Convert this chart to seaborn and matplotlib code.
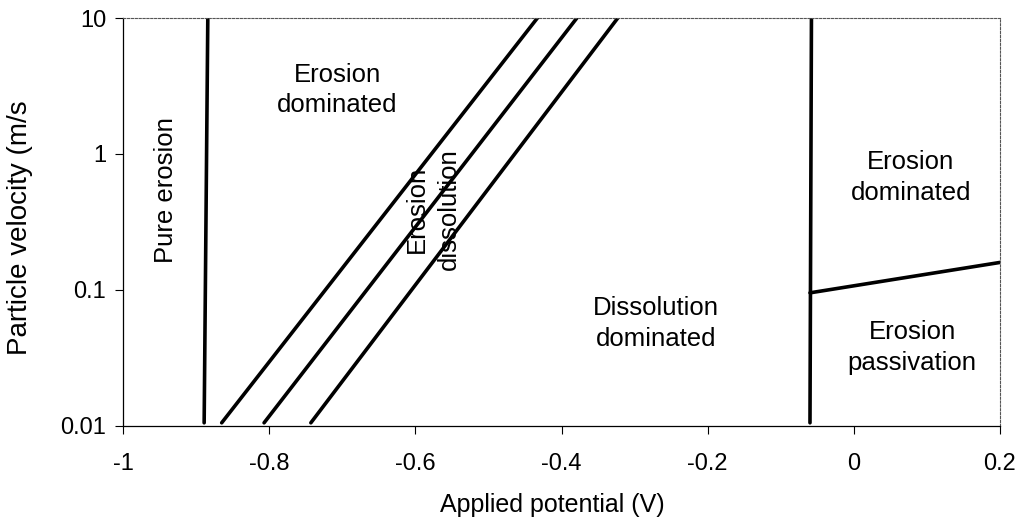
import matplotlib
matplotlib.use("Agg")
import matplotlib.pyplot as plt
import pandas as pd
import seaborn as sns

# boundary lines of the erosion-corrosion map (potential V, velocity m/s)
pure_x = [-0.889, -0.884]
pure_y = [0.0105, 10]
diag_y = [0.0105, 10]
diag1_x = [-0.865, -0.433]
diag2_x = [-0.807, -0.379]
diag3_x = [-0.743, -0.323]
right_x = [-0.060, -0.058]
right_y = [0.0105, 10]
pass_x = [-0.060, 0.2]
pass_y = [0.095, 0.159]

x_ticks = [-1, -0.8, -0.6, -0.4, -0.2, 0, 0.2]
x_tick_labels = ["-1", "-0.8", "-0.6", "-0.4", "-0.2", "0", "0.2"]
y_ticks = [0.01, 0.1, 1, 10]
y_tick_labels = ["0.01", "0.1", "1", "10"]

# region labels: text, x, y, rotation
regions = [
    ("Pure erosion", -0.941, 0.54, 90),
    ("Erosion\ndominated", -0.707, 2.95, 0),
    ("Erosion\ndissolution", -0.576, 0.39, 90),
    ("Dissolution\ndominated", -0.271, 0.0568, 0),
    ("Erosion\ndominated", 0.078, 0.673, 0),
    ("Erosion\npassivation", 0.080, 0.0378, 0),
]

sns.set_style("ticks")
plt.rcParams['font.family'] = ['Liberation Sans', 'DejaVu Sans']

fig = plt.figure(figsize=(10.27, 5.30), dpi=100)
ax = fig.add_axes([0.1198, 0.1968, 0.9737 - 0.1198, 0.966 - 0.1968])

lines = [
    (pure_x, pure_y),
    (diag1_x, diag_y),
    (diag2_x, diag_y),
    (diag3_x, diag_y),
    (right_x, right_y),
    (pass_x, pass_y),
]
for xs, ys in lines:
    df = pd.DataFrame({"x": xs, "y": ys})
    sns.lineplot(data=df, x="x", y="y", ax=ax, color="black", lw=2.6,
                 sort=False, estimator=None)

ax.set_yscale("log")
ax.set_xlim(-1, 0.2)
ax.set_ylim(0.01, 10)
ax.set_xticks(x_ticks)
ax.set_xticklabels(x_tick_labels)
ax.set_yticks(y_ticks)
ax.set_yticklabels(y_tick_labels)
ax.minorticks_off()
ax.tick_params(axis="both", labelsize=17, length=6, width=0.8,
               color="black", labelcolor="black")
ax.tick_params(axis="x", pad=14)
ax.tick_params(axis="y", pad=6)

for side in ["left", "bottom"]:
    ax.spines[side].set_color("black")
    ax.spines[side].set_linewidth(0.9)
for side in ["top", "right"]:
    ax.spines[side].set_visible(True)
    ax.spines[side].set_color("#555555")
    ax.spines[side].set_linewidth(0.8)
    ax.spines[side].set_linestyle((0, (2, 1.5)))

for txt, x, y, rot in regions:
    ax.text(x, y, txt, rotation=rot, ha="center", va="center",
            multialignment="center", fontsize=18.5, color="black",
            linespacing=1.4 if rot else 1.35)

ax.set_xlabel("Applied potential (V)", fontsize=18, color="black")
ax.set_ylabel("Particle velocity (m/s", fontsize=20, color="black")
ax.xaxis.set_label_coords(0.49, -0.165)
ax.yaxis.set_label_coords(-0.103, 0.485)

fig.savefig("out.png", dpi=100, facecolor="white")
